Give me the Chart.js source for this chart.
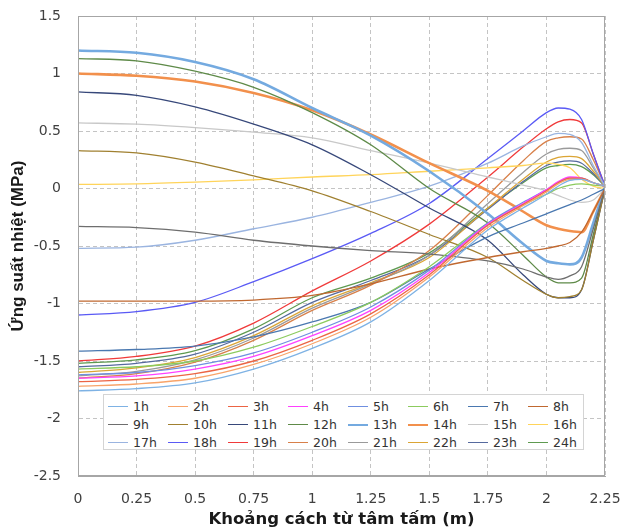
<!DOCTYPE html>
<html>
<head>
<meta charset="utf-8">
<script src="https://cdn.jsdelivr.net/npm/chart.js@4/dist/chart.umd.min.js"></script>
<style>
  html, body { margin: 0; padding: 0; background: #ffffff; }
  #wrap { position: relative; width: 622px; height: 531px; }
  #c { position: absolute; left: 0; top: 0; }
  #legend {
    position: absolute; left: 103px; top: 394px; width: 481px; height: 56px;
    background: #ffffff; border: 1px solid #D4D4D4; box-sizing: border-box;
    display: grid; grid-template-columns: repeat(8, 60px); grid-auto-rows: 18.4px;
    padding: 2px 0 0 4px;
    font-family: "DejaVu Sans", sans-serif; font-size: 12.5px; color: #333333;
  }
  .item { display: flex; align-items: center; white-space: nowrap; }
  .swatch { display: inline-block; width: 20px; margin-right: 5px; }
</style>
</head>
<body>
<div id="wrap">
  <canvas id="c" width="622" height="531"></canvas>
  <div id="legend"></div>
</div>
<script>
// ---------- DATA ----------
const xValues = [0, 0.25, 0.5, 0.75, 1, 1.25, 1.5, 1.75, 1.9, 2.0, 2.05, 2.1, 2.15, 2.2, 2.25];

const seriesNames = ['1h','2h','3h','4h','5h','6h','7h','8h','9h','10h','11h','12h',
                     '13h','14h','15h','16h','17h','18h','19h','20h','21h','22h','23h','24h'];

const h1  = [-1.76, -1.74, -1.69, -1.57, -1.39, -1.16, -0.80, -0.36, -0.17, -0.05, 0.02, 0.07, 0.08, 0.05, 0.02];
const h2  = [-1.72, -1.70, -1.65, -1.53, -1.35, -1.12, -0.77, -0.34, -0.15, -0.03, 0.04, 0.08, 0.08, 0.05, 0.02];
const h3  = [-1.68, -1.66, -1.61, -1.50, -1.32, -1.09, -0.75, -0.32, -0.14, -0.02, 0.05, 0.09, 0.09, 0.05, 0.02];
const h4  = [-1.65, -1.63, -1.57, -1.46, -1.28, -1.06, -0.73, -0.31, -0.13, -0.01, 0.06, 0.10, 0.09, 0.05, 0.02];
const h5  = [-1.62, -1.60, -1.54, -1.43, -1.25, -1.03, -0.71, -0.30, -0.12, -0.01, 0.05, 0.09, 0.09, 0.05, 0.02];
const h6  = [-1.57, -1.55, -1.50, -1.38, -1.20, -0.99, -0.68, -0.30, -0.14, -0.05, 0.00, 0.03, 0.04, 0.03, 0.02];
const h7  = [-1.415, -1.40, -1.37, -1.29, -1.16, -0.99, -0.70, -0.42, -0.30, -0.22, -0.18, -0.14, -0.10, -0.05, 0.00];
const h8  = [-0.98, -0.98, -0.98, -0.97, -0.93, -0.83, -0.70, -0.60, -0.55, -0.52, -0.50, -0.47, -0.38, -0.20, 0.00];
const h9  = [-0.33, -0.34, -0.38, -0.45, -0.50, -0.54, -0.57, -0.63, -0.70, -0.77, -0.79, -0.76, -0.68, -0.35, 0.00];
const h10 = [0.33, 0.31, 0.23, 0.11, -0.02, -0.20, -0.40, -0.60, -0.80, -0.92, -0.95, -0.94, -0.88, -0.45, 0.00];
const h11 = [0.84, 0.81, 0.71, 0.56, 0.38, 0.12, -0.17, -0.45, -0.75, -0.92, -0.95, -0.95, -0.88, -0.45, 0.00];
const h12 = [1.13, 1.11, 1.02, 0.88, 0.66, 0.38, 0.00, -0.30, -0.58, -0.77, -0.82, -0.82, -0.78, -0.40, 0.00];
const h13 = [1.20, 1.18, 1.10, 0.95, 0.70, 0.46, 0.15, -0.22, -0.48, -0.63, -0.65, -0.66, -0.60, -0.30, 0.01];
const h14 = [1.00, 0.98, 0.93, 0.83, 0.68, 0.47, 0.22, -0.02, -0.20, -0.32, -0.35, -0.37, -0.38, -0.20, 0.00];
const h15 = [0.57, 0.56, 0.53, 0.49, 0.44, 0.33, 0.22, 0.10, 0.03, -0.02, -0.06, -0.10, -0.12, -0.10, 0.00];
const h16 = [0.035, 0.04, 0.055, 0.075, 0.10, 0.12, 0.15, 0.18, 0.20, 0.22, 0.21, 0.18, 0.08, 0.02, 0.00];
const h17 = [-0.52, -0.51, -0.45, -0.35, -0.25, -0.12, 0.02, 0.22, 0.37, 0.45, 0.48, 0.47, 0.40, 0.20, 0.02];
const h18 = [-1.10, -1.07, -0.99, -0.81, -0.61, -0.39, -0.13, 0.26, 0.50, 0.66, 0.70, 0.69, 0.60, 0.30, 0.02];
const h19 = [-1.50, -1.46, -1.37, -1.17, -0.89, -0.63, -0.31, 0.10, 0.36, 0.52, 0.58, 0.60, 0.57, 0.30, 0.02];
const h20 = [-1.65, -1.61, -1.51, -1.32, -1.06, -0.84, -0.54, -0.06, 0.24, 0.41, 0.44, 0.45, 0.43, 0.25, 0.02];
const h21 = [-1.63, -1.59, -1.49, -1.30, -1.04, -0.83, -0.58, -0.13, 0.14, 0.30, 0.34, 0.35, 0.33, 0.18, 0.02];
const h22 = [-1.60, -1.56, -1.47, -1.28, -1.02, -0.82, -0.60, -0.17, 0.08, 0.23, 0.27, 0.28, 0.26, 0.15, 0.02];
const h23 = [-1.55, -1.52, -1.44, -1.25, -0.99, -0.80, -0.58, -0.18, 0.06, 0.20, 0.23, 0.24, 0.22, 0.13, 0.02];
const h24 = [-1.52, -1.49, -1.41, -1.22, -0.95, -0.78, -0.56, -0.17, 0.05, 0.18, 0.20, 0.21, 0.19, 0.12, 0.02];

const seriesValues = [h1,h2,h3,h4,h5,h6,h7,h8,h9,h10,h11,h12,h13,h14,h15,h16,h17,h18,h19,h20,h21,h22,h23,h24];

const xTickValues = [0, 0.25, 0.5, 0.75, 1, 1.25, 1.5, 1.75, 2, 2.25];
const xTickLabels = ['0', '0.25', '0.5', '0.75', '1', '1.25', '1.5', '1.75', '2', '2.25'];
const yTickValues = [-2.5, -2, -1.5, -1, -0.5, 0, 0.5, 1, 1.5];
const yTickLabels = ['-2.5', '-2', '-1.5', '-1', '-0.5', '0', '0.5', '1', '1.5'];

const xTitle = 'Khoảng cách từ tâm tấm (m)';
const yTitle = 'Ứng suất nhiệt (MPa)';

// ---------- STYLES ----------
const seriesColors = ['#7EB2E4','#F8A46A','#EC6444','#FF40FF','#6F8FE0','#8CCB5E','#4A78B0','#C06830',
                      '#6E6E6E','#A08030','#37487A','#5E8A48','#74AAE0','#F2904C','#C8C8C8','#FFD45A',
                      '#9AB4E0','#5A5AF5','#F03A3A','#D8804A','#9A9A9A','#DBA535','#566A9E','#5E9A50'];
const seriesWidths = seriesNames.map(n => (n === '13h' || n === '14h') ? 2.6 : 1.3);

const datasets = seriesNames.map((name, i) => ({
  label: name,
  data: xValues.map((x, j) => ({ x: x, y: seriesValues[i][j] })),
  borderColor: seriesColors[i],
  backgroundColor: seriesColors[i],
  borderWidth: seriesWidths[i],
  pointRadius: 0,
  fill: false,
  cubicInterpolationMode: 'monotone'
}));

const frame = {
  id: 'frame',
  afterDraw(chart) {
    const a = chart.chartArea, ctx = chart.ctx;
    ctx.save();
    ctx.strokeStyle = '#A6A6A6';
    ctx.lineWidth = 1;
    ctx.strokeRect(Math.round(a.left) + 0.5, Math.round(a.top) + 0.5,
                   Math.round(a.right - a.left) - 1, Math.round(a.bottom - a.top) - 1);
    ctx.restore();
  }
};

const tickFont = { family: 'DejaVu Sans', size: 14 };
const titleFont = { family: 'DejaVu Sans', size: 16.5, weight: 'bold' };

const chart = new Chart(document.getElementById('c'), {
  type: 'line',
  data: { datasets: datasets },
  options: {
    responsive: false,
    animation: false,
    layout: { padding: { top: 16, right: 17, left: 0, bottom: 0 } },
    plugins: { legend: { display: false }, tooltip: { enabled: false } },
    scales: {
      x: {
        type: 'linear', min: 0, max: 2.25,
        afterBuildTicks: (ax) => { ax.ticks = xTickValues.map(v => ({ value: v })); },
        afterFit: (s) => { s.height = 55; s.paddingLeft = 0; s.paddingRight = 0; },
        ticks: {
          autoSkip: false, maxRotation: 0, padding: 15,
          font: tickFont, color: '#404040',
          callback: (v) => xTickLabels[xTickValues.indexOf(v)]
        },
        grid: { color: '#C4C4C4', lineWidth: 1, drawTicks: false },
        border: { display: true, color: '#A6A6A6', dash: [4, 3] },
        title: { display: true, text: xTitle, font: titleFont, color: '#1A1A1A', padding: { top: 0, bottom: 1 } }
      },
      y: {
        type: 'linear', min: -2.5, max: 1.5,
        afterBuildTicks: (ax) => { ax.ticks = yTickValues.map(v => ({ value: v })); },
        afterFit: (s) => { s.width = 78; s.paddingTop = 0; s.paddingBottom = 0; },
        ticks: {
          autoSkip: false, padding: 17,
          font: tickFont, color: '#404040',
          callback: (v) => yTickLabels[yTickValues.indexOf(v)]
        },
        grid: { color: '#C4C4C4', lineWidth: 1, drawTicks: false },
        border: { display: true, color: '#A6A6A6', dash: [4, 3] },
        title: { display: true, text: yTitle, font: { family: 'Liberation Sans', size: 17, weight: 'bold' }, color: '#1A1A1A', padding: { top: 8, bottom: 0 } }
      }
    }
  },
  plugins: [frame]
});

// ---------- LEGEND (HTML, from chart datasets) ----------
const legendEl = document.getElementById('legend');
chart.data.datasets.forEach(ds => {
  const item = document.createElement('div');
  item.className = 'item';
  const sw = document.createElement('span');
  sw.className = 'swatch';
  sw.style.borderTop = Math.max(1.5, ds.borderWidth) + 'px solid ' + ds.borderColor;
  const tx = document.createElement('span');
  tx.textContent = ds.label;
  item.appendChild(sw);
  item.appendChild(tx);
  legendEl.appendChild(item);
});
</script>
</body>
</html>
